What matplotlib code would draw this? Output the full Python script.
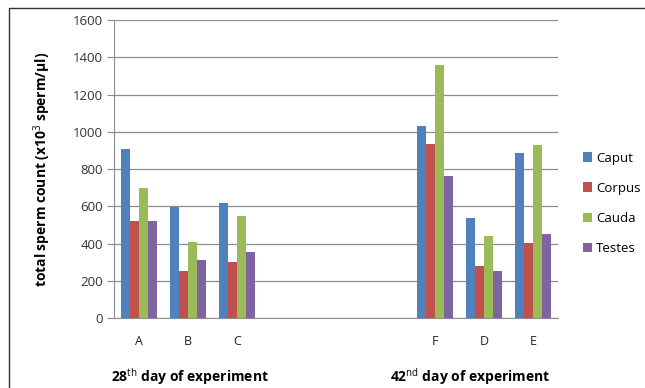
import numpy as np
import matplotlib.pyplot as plt
from matplotlib.patches import Rectangle

plt.rcParams['font.family'] = ['Open Sans', 'DejaVu Sans']
plt.rcParams['mathtext.fontset'] = 'custom'
plt.rcParams['mathtext.rm'] = 'Open Sans'

# categories (empty slots keep the gap between the two days)
groups = ["A", "B", "C", "", "", "", "F", "D", "E"]
series = ["Caput", "Corpus", "Cauda", "Testes"]
caput = [910, 595, 615, None, None, None, 1030, 535, 885]
corpus = [522, 250, 300, None, None, None, 935, 277, 402]
cauda = [697, 408, 547, None, None, None, 1358, 440, 930]
testes = [522, 310, 353, None, None, None, 760, 252, 453]
colors = ["#4F81BD", "#C0504D", "#9BBB59", "#8064A2"]

fig = plt.figure(figsize=(6.45, 3.88), dpi=100)
ax = fig.add_axes([0.1767, 0.1804, 0.6883, 0.768])

x = np.arange(len(groups))
w = 0.183
for i, (name, vals) in enumerate(zip(series, [caput, corpus, cauda, testes])):
    xs = [xi for xi, v in zip(x, vals) if v is not None]
    vs = [v for v in vals if v is not None]
    ax.bar(np.array(xs) + (i - 1.5) * w, vs, width=w, color=colors[i],
           label=name, zorder=3)

ax.set_xlim(-0.5, len(groups) - 0.5)
ax.set_ylim(0, 1600)
ax.set_yticks(range(0, 1601, 200))
ax.set_xticks(x)
ax.set_xticklabels(groups)
ax.yaxis.grid(True, color="#8c8c8c", linewidth=0.9, zorder=0)
for s in ["top", "right"]:
    ax.spines[s].set_visible(False)
ax.spines["left"].set_color("#8c8c8c")
ax.spines["bottom"].set_color("#8c8c8c")
ax.tick_params(axis="y", length=5, color="#8c8c8c", labelsize=9.5,
               labelcolor="#333333", pad=3)
ax.tick_params(axis="x", length=0, labelsize=9, labelcolor="#222222", pad=12)

ax.set_ylabel(r"total sperm count (x10$^\mathrm{3}$ sperm/µl)", fontsize=10,
              fontweight="bold", labelpad=14)

fig.text(190 / 645, 1 - 377 / 388, r"28$^\mathrm{th}$ day of experiment",
         ha="center", va="center", fontsize=10, fontweight="bold")
fig.text(470 / 645, 1 - 377 / 388, r"42$^\mathrm{nd}$ day of experiment",
         ha="center", va="center", fontsize=10, fontweight="bold")

ax.legend(loc="center left", bbox_to_anchor=(1.03, 0.385), frameon=False,
          fontsize=9.5, handlelength=0.7, handleheight=0.7,
          handletextpad=0.3, labelspacing=1.3)

fig.patches.append(Rectangle((9 / 645, -0.05), 1.1, 1 - 8 / 388 + 0.05,
                             transform=fig.transFigure, fill=False,
                             edgecolor="#333333", linewidth=1))

fig.savefig("out.png", dpi=100)
